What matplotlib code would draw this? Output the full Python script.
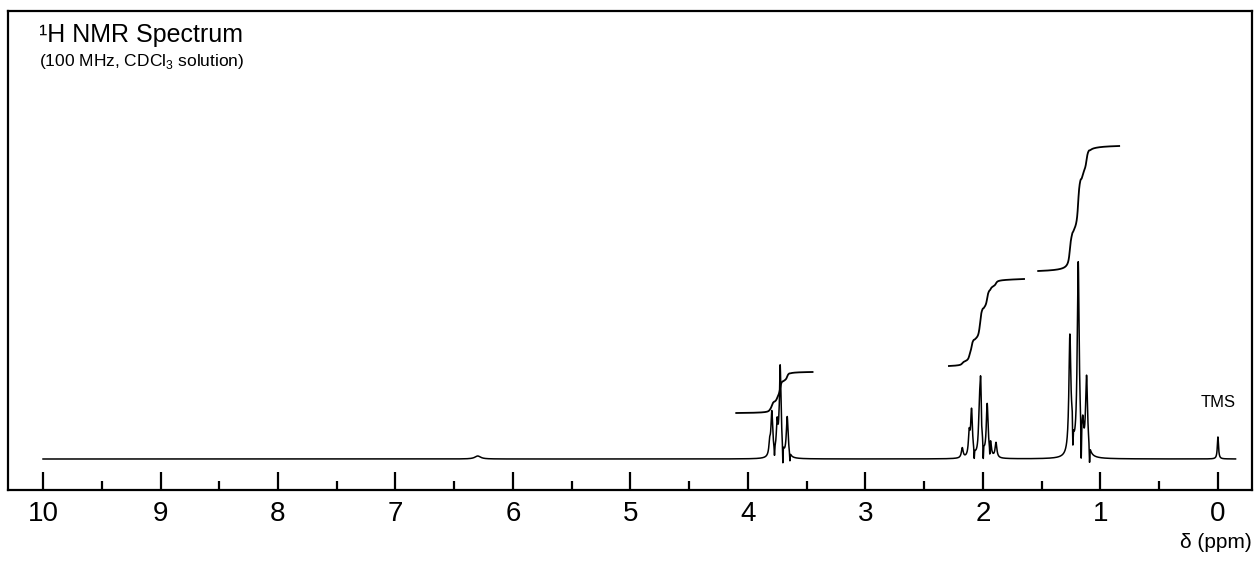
import numpy as np
import matplotlib
matplotlib.use("Agg")
import matplotlib.pyplot as plt

plt.rcParams['font.family'] = ['Liberation Sans', 'DejaVu Sans']
plt.rcParams['mathtext.fontset'] = 'custom'
plt.rcParams['mathtext.rm'] = 'Liberation Sans'

# peak list: shift (ppm), height (px above baseline), half width (ppm)
peak_ppm = [6.30, 3.815, 3.797, 3.752, 3.726, 3.666,
            2.176, 2.117, 2.097, 2.031, 2.020, 1.964, 1.935, 1.889,
            1.260, 1.240, 1.189, 1.150, 1.118, 0.00]
peak_height = [3, 12, 44, 30, 90, 40,
               10, 22, 46, 30, 70, 52, 12, 15,
               118, 20, 192, 24, 78, 22]
peak_width = [0.03, 0.008, 0.009, 0.008, 0.009, 0.009,
              0.009, 0.008, 0.009, 0.008, 0.009, 0.009, 0.008, 0.009,
              0.010, 0.008, 0.010, 0.008, 0.010, 0.006]

# integral traces: start/end shift and level (px above baseline)
integ_start = [4.10, 2.29, 1.53]
integ_end = [3.45, 1.65, 0.84]
integ_low = [46, 93, 188]
integ_high = [87, 180, 313]

ppm = np.linspace(10.0, -0.15, 12000)


def line_shape(x0, h, w):
    d = ppm - x0
    lor = h * w ** 2 / (d ** 2 + w ** 2)
    if h < 25:
        return lor
    # narrow negative spike just upfield of the line
    depth = h / (1 + 2.5 ** 2) + min(0.08 * h, 10)
    dip = depth * np.exp(-((d + 2.5 * w) / (0.35 * w)) ** 2)
    return lor - dip


spec = np.zeros_like(ppm)
for x0, h, w in zip(peak_ppm, peak_height, peak_width):
    spec += line_shape(x0, h, w)

W, H = 1254, 563
fig = plt.figure(figsize=(W / 100, H / 100), dpi=100)
ax = fig.add_axes([8 / W, 1 - 490 / H, (1252 - 8) / W, (490 - 11) / H])

ax.plot(ppm, spec, color='black', lw=1.1)

for s, e, lo, hi in zip(integ_start, integ_end, integ_low, integ_high):
    m = (ppm <= s) & (ppm >= e)
    cs = np.cumsum(np.clip(spec[m], 0, None))
    ax.plot(ppm[m], lo + (hi - lo) * cs / cs[-1], color='black', lw=1.3)

ax.set_xlim(10.298, -0.29)
ax.set_ylim(-31, 448)
ax.set_yticks([])
ax.set_xticks(range(0, 11))
ax.set_xticks(np.arange(0.5, 10, 1.0), minor=True)
ax.tick_params(axis='x', which='major', direction='in', length=13, width=1.6,
               labelsize=20, pad=8)
ax.tick_params(axis='x', which='minor', direction='in', length=6.5, width=1.6)
for sp in ax.spines.values():
    sp.set_linewidth(1.6)

ax.text(0.0, 52, 'TMS', ha='center', va='baseline', fontsize=12)

fig.text(39 / W, 1 - 42 / H, '¹H NMR Spectrum', fontsize=18, va='baseline')
fig.text(39 / W, 1 - 66 / H, '(100 MHz, CDCl$_3$ solution)', fontsize=12.5, va='baseline')
fig.text(1252 / W, 1 - 548 / H, 'δ (ppm)', fontsize=15, ha='right', va='baseline')

fig.savefig('out.png', dpi=100)
